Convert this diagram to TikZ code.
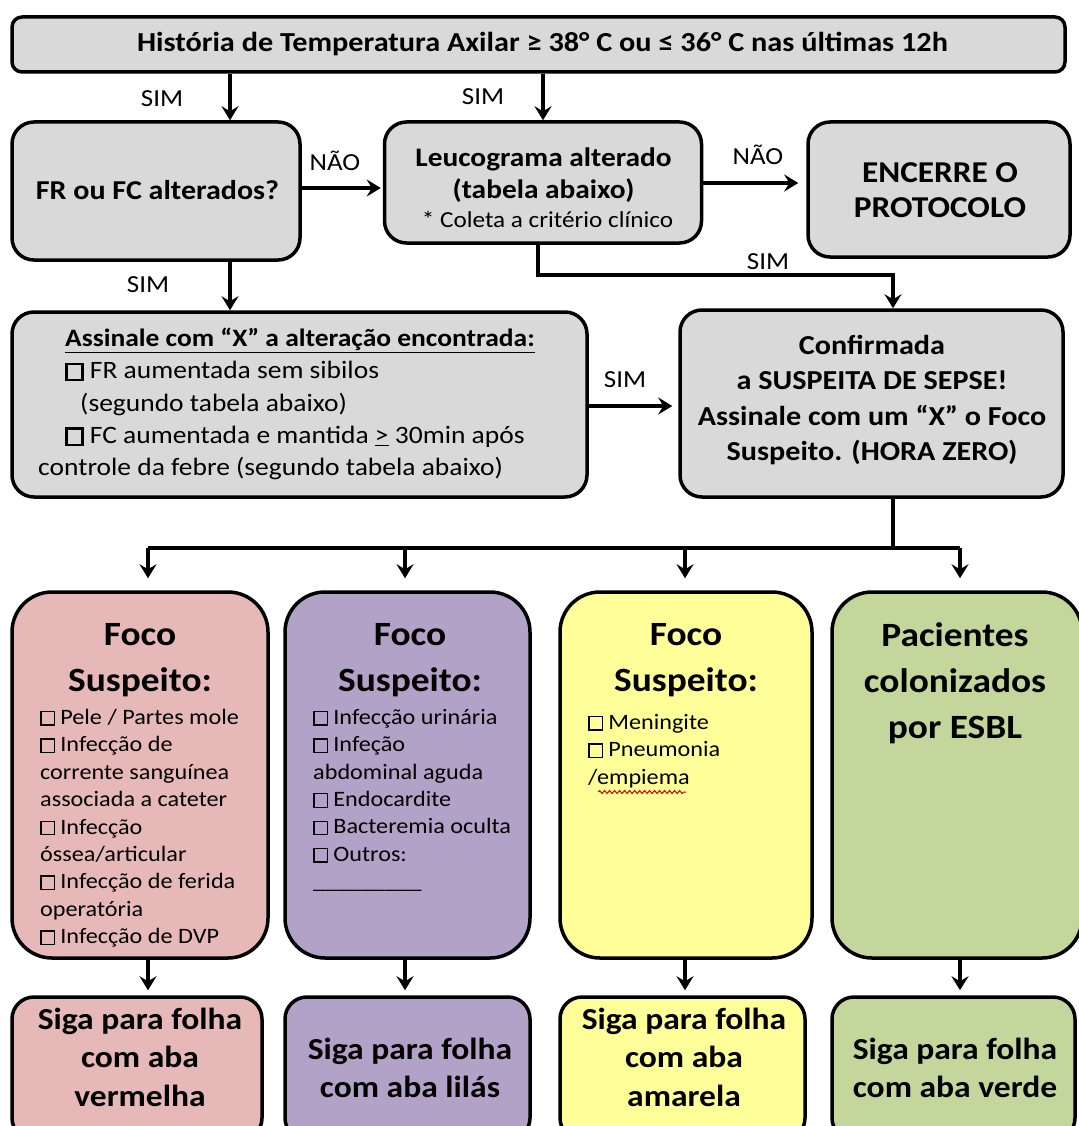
\documentclass[tikz,border=0pt]{standalone}
\usepackage{fontspec}
\setmainfont{Carlito}[FakeStretch=1.1]
\usetikzlibrary{arrows.meta,decorations.pathmorphing}
\definecolor{boxgray}{HTML}{D9D9D9}
\definecolor{redf}{HTML}{E6B9B8}
\definecolor{purf}{HTML}{B3A2C7}
\definecolor{yelf}{HTML}{FFFF99}
\definecolor{grnf}{HTML}{C3D69B}
\newcommand{\chk}{{\setlength{\fboxrule}{1.3pt}\setlength{\fboxsep}{0pt}\fbox{\rule{0pt}{0.55em}\rule{0.55em}{0pt}}}}
\newcommand{\bchk}{{\setlength{\fboxrule}{2.4pt}\setlength{\fboxsep}{0pt}\fbox{\rule{0pt}{0.55em}\rule{0.55em}{0pt}}}}
\tikzset{
  shapebox/.style={draw, line width=3.5pt, rounded corners=22pt, inner sep=0pt},
  bigbox/.style={draw, line width=3.5pt, rounded corners=40pt, inner sep=0pt},
  arr/.style={line width=3.5pt, -{Stealth[length=14pt,width=17pt,inset=5pt]}},
  plain/.style={line width=3.5pt},
  lbl/.style={font=\fontsize{24.5}{28}\selectfont, inner sep=0pt},
  txt/.style={inner sep=0pt, align=center},
  list/.style={inner sep=0pt, align=left, anchor=north west, font=\fontsize{22}{27.4}\selectfont},
  title/.style={inner sep=0pt, align=center, font=\fontsize{34}{46}\selectfont\bfseries},
  btxt/.style={align=center, inner sep=0pt, font=\fontsize{30.5}{38.5}\selectfont\bfseries},
}
\begin{document}
\begin{tikzpicture}[x=1pt,y=-1pt]
\useasboundingbox (0,0) rectangle (1078,1126);
\fill[white] (0,0) rectangle (1078,1126);
% top
\node[shapebox, rounded corners=10pt, fill=boxgray, minimum width=1053pt, minimum height=55pt] (top) at (538.5,44.5) {};
\node[txt, font=\fontsize{27.5}{30}\selectfont\bfseries] (toptxt) at (542.5,44) {História de Temperatura Axilar ≥ 38° C ou ≤ 36° C nas últimas 12h};
% row 2
\node[shapebox, fill=boxgray, minimum width=288pt, minimum height=138pt] (fr) at (156,191) {};
\node[txt, font=\fontsize{27.3}{30}\selectfont\bfseries] (frtxt) at (157.5,190) {FR ou FC alterados?};
\node[shapebox, fill=boxgray, minimum width=317pt, minimum height=121pt] (leuco) at (543,182.5) {};
\node[txt, font=\fontsize{26.7}{32}\selectfont\bfseries] (leucotxt) at (543.5,175) {Leucograma alterado\\(tabela abaixo)};
\node[txt, font=\fontsize{22.9}{26}\selectfont] (leucocol) at (547.5,219) {* Coleta a critério clínico};
\node[shapebox, fill=boxgray, minimum width=262pt, minimum height=135pt] (enc) at (939,189.5) {};
\node[txt, font=\fontsize{30.3}{35}\selectfont\bfseries] (enctxt) at (940,190) {ENCERRE O\\PROTOCOLO};
% row 3
\node[shapebox, fill=boxgray, minimum width=575pt, minimum height=185pt] (assin) at (299.5,404.5) {};
\node[list, font=\fontsize{25}{32.3}\selectfont] (assintxt) at (38,328) {\hspace{27pt}\textbf{\underline{Assinale com “X” a alteração encontrada:}}\\
\hspace{27pt}\bchk\ FR aumentada sem sibilos\\
\hspace{42pt}(segundo tabela abaixo)\\
\hspace{27pt}\bchk\ FC aumentada e mantida \underline{>} 30min após\\
controle da febre (segundo tabela abaixo)};
\node[shapebox, fill=boxgray, minimum width=383pt, minimum height=187pt] (conf) at (871.5,403.5) {};
\node[txt, font=\fontsize{27.4}{35.5}\selectfont\bfseries] (conftxt) at (872,400) {Confirmada\\a SUSPEITA DE SEPSE!\\Assinale com um “X” o Foco\\Suspeito. (HORA ZERO)};
% colored boxes
\node[bigbox, fill=redf, minimum width=256pt, minimum height=366pt] (red) at (140,775) {};
\node[bigbox, fill=purf, minimum width=245pt, minimum height=366pt] (pur) at (407.5,775) {};
\node[bigbox, fill=yelf, minimum width=252pt, minimum height=366pt] (yel) at (686,775) {};
\node[bigbox, fill=grnf, minimum width=250pt, minimum height=366pt] (grn) at (957,775) {};
\node[title] (redt) at (140,660) {Foco\\Suspeito:};
\node[title] (purt) at (410,660) {Foco\\Suspeito:};
\node[title] (yelt) at (686,660) {Foco\\Suspeito:};
\node[title] (grnt) at (955,683) {Pacientes\\colonizados\\por ESBL};
\node[list] (redl) at (40,709) {\chk\ Pele / Partes mole\\
\chk\ Infecção de\\
corrente sanguínea\\
associada a cateter\\
\chk\ Infecção\\
óssea/articular\\
\chk\ Infecção de ferida\\
operatória\\
\chk\ Infecção de DVP};
\node[list] (purl) at (313,709) {\chk\ Infecção urinária\\
\chk\ Infeção\\
abdominal aguda\\
\chk\ Endocardite\\
\chk\ Bacteremia oculta\\
\chk\ Outros:\\
\_\_\_\_\_\_\_\_\_};
\node[list] (yell) at (588,714) {\chk\ Meningite\\
\chk\ Pneumonia\\
/empiema};
\draw[red!85!black, line width=1pt, decorate, decoration={snake, amplitude=1.5pt, segment length=5pt}] (598,792) -- (686,792);
% bottom boxes
\node[shapebox, fill=redf, minimum width=250pt, minimum height=143pt] (redb) at (137,1068.5) {};
\node[shapebox, fill=purf, minimum width=245pt, minimum height=143pt] (purb) at (407.5,1068.5) {};
\node[shapebox, fill=yelf, minimum width=245pt, minimum height=143pt] (yelb) at (682.5,1068.5) {};
\node[shapebox, fill=grnf, minimum width=243pt, minimum height=143pt] (grnb) at (953.5,1068.5) {};
\node[btxt] (redbt) at (140,1057) {Siga para folha\\com aba\\vermelha};
\node[btxt] (purbt) at (410,1068) {Siga para folha\\com aba lilás};
\node[btxt] (yelbt) at (684,1057) {Siga para folha\\com aba\\amarela};
\node[btxt] (grnbt) at (955,1068) {Siga para folha\\com aba verde};
% coordinates
\coordinate (c1) at (230,0);
\coordinate (c2) at (538,275);
\coordinate (c3) at (893,275);
\coordinate (hub) at (893,548);
\coordinate (hl) at (148,548);
\coordinate (hm1) at (405,548);
\coordinate (hm2) at (685,548);
\coordinate (hr) at (960,548);
% connectors
\draw[arr] (top.south -| c1) -- (fr.north -| c1);
\draw[arr] (top.south -| leuco.north) -- (leuco.north);
\draw[arr, shorten >=2pt] (fr.east |- 0,188) -- (leuco.west |- 0,188);
\draw[arr, shorten >=8pt] (leuco.east |- 0,183) -- (enc.west |- 0,183);
\draw[arr] (fr.south -| c1) -- (assin.north -| c1);
\draw[arr] (leuco.south -| c2) -- (c2) -- (c3) -- (conf.north -| c3);
\draw[arr, shorten >=6pt] (assin.east |- 0,406) -- (conf.west |- 0,406);
\draw[plain] (conf.south -| hub) -- (hub);
\draw[plain] (hl) -- (hr);
\draw[arr, shorten >=12pt] (hl) -- (red.north -| hl);
\draw[arr, shorten >=12pt] (hm1) -- (pur.north -| hm1);
\draw[arr, shorten >=12pt] (hm2) -- (yel.north -| hm2);
\draw[arr, shorten >=12pt] (hr) -- (grn.north -| hr);
\draw[arr, shorten >=5pt] (red.south -| hl) -- (redb.north -| hl);
\draw[arr, shorten >=5pt] (pur.south -| hm1) -- (purb.north -| hm1);
\draw[arr, shorten >=5pt] (yel.south -| hm2) -- (yelb.north -| hm2);
\draw[arr, shorten >=5pt] (grn.south -| hr) -- (grnb.north -| hr);
% labels
\node[lbl] (s1) at (162,99) {SIM};
\node[lbl] (s2) at (483,97) {SIM};
\node[lbl] (n1) at (335,161) {NÃO};
\node[lbl] (n2) at (758,155) {NÃO};
\node[lbl] (s3) at (148,285) {SIM};
\node[lbl] (s4) at (768,262) {SIM};
\node[lbl] (s5) at (625,380) {SIM};
\end{tikzpicture}
\end{document}
